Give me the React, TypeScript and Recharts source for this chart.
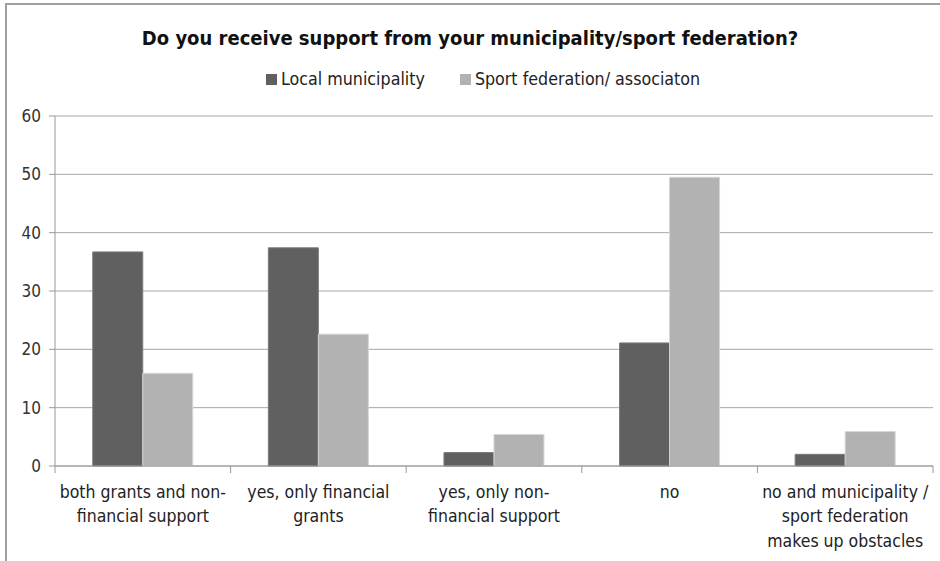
import React from "react";
import { BarChart, Bar, XAxis, YAxis, CartesianGrid } from "recharts";

const categories = [
  "both grants and non-financial support",
  "yes, only financial grants",
  "yes, only non-financial support",
  "no",
  "no and municipality / sport federation makes up obstacles",
];
const tickLines = [
  ["both grants and non-", "financial support"],
  ["yes, only financial", "grants"],
  ["yes, only non-", "financial support"],
  ["no"],
  ["no and municipality /", "sport federation", "makes up obstacles"],
];
const localMunicipality = [36.7, 37.4, 2.3, 21.1, 2.0];
const sportFederation = [15.9, 22.6, 5.4, 49.5, 5.9];
const yTicks = [0, 10, 20, 30, 40, 50, 60];

const title = "Do you receive support from your municipality/sport federation?";
const seriesNames = ["Local municipality", "Sport federation/ associaton"];

const FONT = "'DejaVu Sans Condensed', 'Liberation Sans Narrow', sans-serif";
const DARK = "#606060";
const LIGHT = "#b2b2b2";
const seriesColors = [DARK, LIGHT];

const data = categories.map((c, i) => ({
  name: c,
  local: localMunicipality[i],
  sport: sportFederation[i],
}));

const XTick = (props: any) => {
  const { x, y, index, width } = props;
  const half = width / categories.length / 2;
  const lines = tickLines[index] || [];
  return (
    <g>
      <line x1={x - half} y1={y - 8} x2={x - half} y2={y - 1} stroke="#999" strokeWidth={1} />
      {index === categories.length - 1 && (
        <line x1={x + half} y1={y - 8} x2={x + half} y2={y - 1} stroke="#999" strokeWidth={1} />
      )}
      <text x={x} y={y + 24} textAnchor="middle" fontFamily={FONT} fontSize={17.5} fill="#222">
        {lines.map((l, i) => (
          <tspan key={i} x={x} dy={i === 0 ? 0 : 24.3}>
            {l}
          </tspan>
        ))}
      </text>
    </g>
  );
};

export default function App() {
  return (
    <div style={{ position: "absolute", left: 0, top: 0, width: 940, height: 561, background: "#fff", overflow: "hidden" }}>
      <div
        style={{
          position: "absolute",
          left: 0,
          top: 26,
          width: 940,
          textAlign: "center",
          fontFamily: FONT,
          fontWeight: "bold",
          fontSize: 20,
          color: "#111",
        }}
      >
        {title}
      </div>
      <div
        style={{
          position: "absolute",
          left: 266,
          top: 69,
          display: "flex",
          fontFamily: FONT,
          fontSize: 17.7,
          color: "#222",
        }}
      >
        {seriesNames.map((n, i) => (
          <div key={i} style={{ display: "flex", alignItems: "center", marginRight: i === 0 ? 35 : 0 }}>
            <span style={{ display: "inline-block", width: 11, height: 11, background: seriesColors[i], marginRight: 4 }} />
            <span>{n}</span>
          </div>
        ))}
      </div>
      <div style={{ position: "absolute", left: 0, top: 0 }}>
        <BarChart
          width={940}
          height={561}
          data={data}
          margin={{ top: 116, right: 7, bottom: 0, left: 8 }}
          barCategoryGap="21.5%"
          barGap={0}
        >
          <CartesianGrid vertical={false} stroke="#a6a6a6" />
          <XAxis
            dataKey="name"
            interval={0}
            axisLine={{ stroke: "#999" }}
            tickLine={false}
            tick={<XTick />}
            height={95}
          />
          <YAxis
            domain={[0, 60]}
            ticks={yTicks}
            width={47}
            axisLine={{ stroke: "#999" }}
            tickLine={{ stroke: "#999" }}
            tickSize={6}
            tick={{ fontFamily: FONT, fontSize: 17, fill: "#333", dx: -6 }}
          />
          <Bar dataKey="local" name={seriesNames[0]} fill={DARK} stroke="#7a7a7a" strokeWidth={1} isAnimationActive={false} />
          <Bar dataKey="sport" name={seriesNames[1]} fill={LIGHT} stroke="#d6d6d6" strokeWidth={1} isAnimationActive={false} />
        </BarChart>
      </div>
      <div style={{ position: "absolute", left: 5, top: 3, width: 940, height: 600, borderTop: "2px solid #a0a0a0", borderLeft: "2px solid #a0a0a0" }} />
    </div>
  );
}
